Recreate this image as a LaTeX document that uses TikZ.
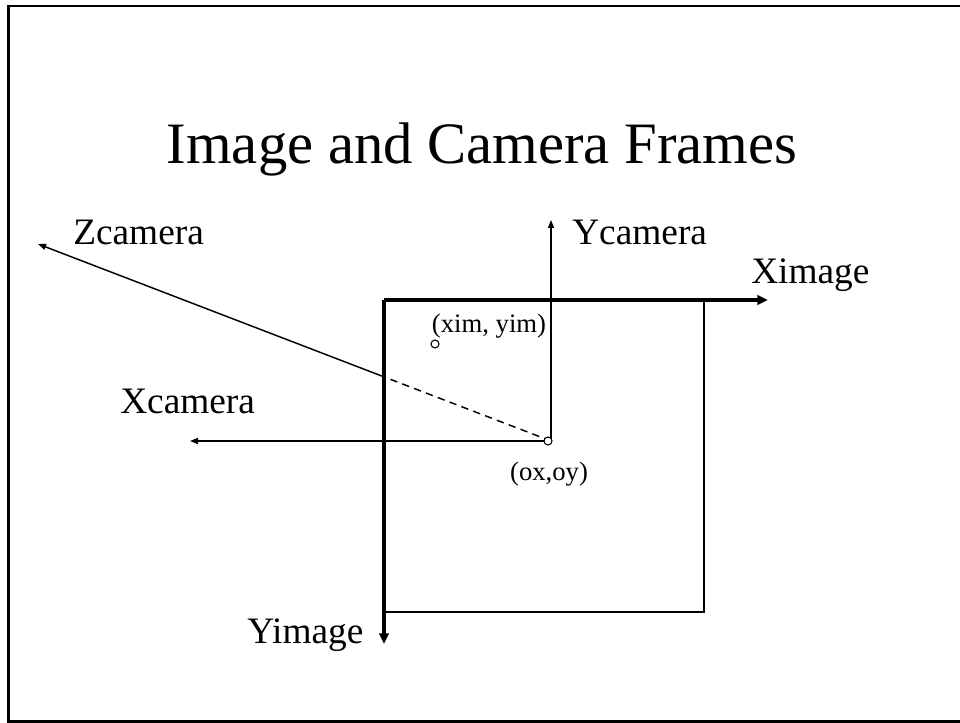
\documentclass[tikz,border=0pt]{standalone}
\usepackage{fontspec}
\setmainfont{Liberation Serif}
\usetikzlibrary{arrows.meta,calc}
\begin{document}
\begin{tikzpicture}[x=0.75pt,y=-0.75pt,
  thickax/.style={line width=2.3pt, -{Triangle[length=8pt,width=7pt]}},
  thinax/.style={line width=1.1pt},
  thintip/.style={-{Triangle[length=6pt,width=4.5pt]}},
  lbl/.style={font=\fontsize{28}{30}\selectfont, inner sep=0pt, anchor=base west},
  small/.style={font=\fontsize{20}{22}\selectfont, inner sep=0pt},
  dot/.style={circle, draw, line width=0.8pt, fill=white, minimum size=6pt, inner sep=0pt}]
\useasboundingbox (0,0) rectangle (960,723);
% slide frame (its right edge lies past the page)
\draw[line width=2.2pt] (972,6) -- (8.5,6) -- (8.5,721.5) -- (972,721.5);

\node[font=\fontsize{44}{50}\selectfont, inner sep=0pt, anchor=base] (title) at (482,164) {Image and Camera Frames};

% image frame corners and camera origin
\coordinate (TL) at (384,300);
\coordinate (TR) at (704,300);
\coordinate (BR) at (704,612);
\coordinate (BL) at (384,612);
\coordinate (O)  at (551,441);
\coordinate (ximEnd) at (768,300);
\coordinate (yimEnd) at (384,644);
\coordinate (ycEnd) at (551,220);
\coordinate (xcEnd) at (190,441);
\coordinate (zcEnd) at (38,244);
\coordinate (zcCross) at ($(O)!0.3228!(zcEnd)$);

% image axes
\draw[thickax] (TL) -- (ximEnd);
\draw[thickax] (TL) -- (yimEnd);
\draw[thinax] (TR) -- (BR) -- (BL);

% camera axes
\draw[thinax,thintip] (O) -- (ycEnd);
\draw[thinax,thintip] (O) -- (xcEnd);
\draw[thinax,dash pattern=on 5.5pt off 4pt] (O) -- (zcCross);
\draw[thinax,thintip] (zcCross) -- (zcEnd);

\node[dot] (origin) at (548,441) {};
\node[dot] (pt) at (435,344) {};

% labels
\node[lbl] (zc) at (73,245) {Zcamera};
\node[lbl] (yc) at (572,245) {Ycamera};
\node[lbl] (xi) at (751,284) {Ximage};
\node[lbl] (xc) at (120,413) {Xcamera};
\node[lbl] (yi) at (247,643) {Yimage};
\node[small] (ptl) at (489,326) {(xim, yim)};
\node[small] (ol) at (549,474) {(ox,oy)};
\end{tikzpicture}
\end{document}
